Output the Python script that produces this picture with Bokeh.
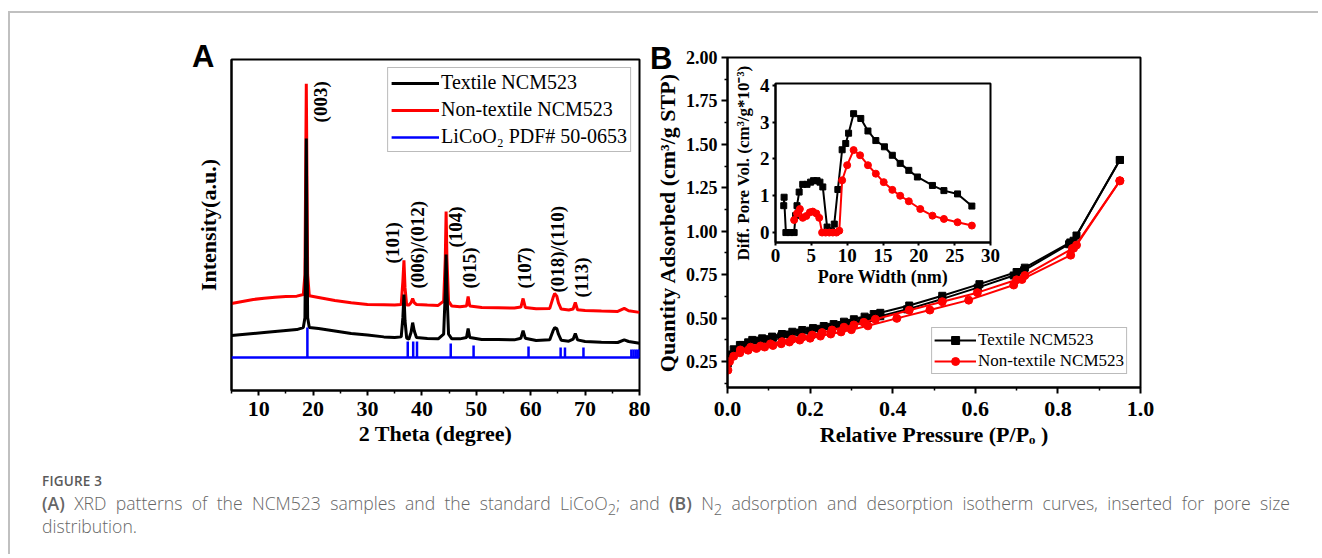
import numpy as np
from bokeh.plotting import figure
from bokeh.models import (Range1d, FixedTicker, NumeralTickFormatter, Legend, LegendItem,
                          Span, Div, GridBox)
from bokeh.core.properties import value
from bokeh.embed import file_html
from bokeh.resources import INLINE

# ---------------- Panel A : XRD ----------------
two_theta = [5, 7, 9, 11, 13, 15, 17, 18.2, 18.5, 18.65, 18.75, 18.85, 19.0, 19.3, 21, 24, 27, 30,
             33, 35, 36.2, 36.5, 36.7, 36.9, 37.2, 37.6, 38.0, 38.3, 38.6, 39.0, 41, 43, 44.0,
             44.3, 44.45, 44.6, 44.9, 45.5, 47, 48.2, 48.5, 48.8, 51, 54, 57, 58.2, 58.6, 59.0,
             61, 63.5, 64.1, 64.4, 64.8, 65.1, 65.6, 67, 67.8, 68.2, 68.6, 70, 73, 76, 77.2, 78, 80]
textile_xrd = [16.6, 16.9, 17.2, 17.5, 17.8, 18.1, 18.4, 19.0, 22, 50, 76.1, 50, 22, 19.0, 18.7, 18.0,
               17.2, 16.8, 16.2, 16.0, 16.2, 22, 29.0, 21, 15.8, 15.5, 17.5, 20.5, 18.0, 16.0, 15.7,
               15.6, 17, 30, 41.1, 30, 17, 15.6, 15.6, 16, 18.7, 16, 15.4, 15.4, 15.3, 15.8, 18.1,
               15.8, 15.1, 15.3, 18, 19.0, 18.7, 17, 15.2, 14.9, 15.5, 17.2, 15.3, 14.8, 14.6, 14.5,
               15.3, 14.8, 14.3]
nontextile_xrd = [26.3, 26.9, 27.5, 27.9, 28.2, 28.4, 28.5, 29, 35, 70, 92.7, 70, 35, 28.6, 28.1, 27.2,
                  26.5, 26.0, 25.9, 25.8, 26, 33, 39.3, 31, 25.8, 25.8, 26.5, 27.8, 26.5, 26, 25.8,
                  25.7, 27, 40, 54.1, 40, 27, 25.5, 25.3, 25.5, 28.4, 25.5, 25.1, 25.0, 24.9, 25.2,
                  27.8, 25.1, 24.7, 24.8, 28.0, 29.3, 28.5, 26.5, 24.6, 24.3, 24.6, 26.6, 24.4, 24.2,
                  24.0, 23.9, 24.8, 24.1, 23.6]
ref_pos = [18.95, 37.4, 38.4, 39.1, 45.3, 49.5, 59.6, 65.5, 66.3, 69.7, 78.5, 78.9, 79.3, 79.7, 80.0]
ref_int = [9.0, 4.8, 4.8, 4.8, 4.2, 3.6, 3.3, 3.0, 3.0, 3.0, 2.4, 2.4, 2.4, 2.4, 2.4]
peak_labels = ["(003)", "(101)", "(006)/(012)", "(104)", "(015)", "(107)", "(018)/(110)", "(113)"]
peak_label_x = [21.3, 34.6, 39.2, 46.2, 48.7, 58.8, 64.9, 69.3]
peak_label_y = [81.0, 38.4, 30.8, 43.2, 30.8, 30.8, 29.6, 28.1]
A_XTICKS = [10, 20, 30, 40, 50, 60, 70, 80]
A_XMINOR = [5, 15, 25, 35, 45, 55, 65, 75]

# ---------------- Panel B : N2 isotherms ----------------
tex_ads_p = [0.001, 0.005, 0.015, 0.03, 0.05, 0.07, 0.09, 0.11, 0.13, 0.15, 0.175, 0.20, 0.225, 0.25,
             0.275, 0.30, 0.325, 0.35, 0.37, 0.435, 0.52, 0.606, 0.693, 0.718, 0.827, 0.838, 0.95]
tex_ads_q = [0.24, 0.29, 0.32, 0.345, 0.36, 0.37, 0.378, 0.386, 0.395, 0.405, 0.416, 0.427, 0.438, 0.449,
             0.46, 0.472, 0.485, 0.50, 0.51, 0.55, 0.61, 0.675, 0.745, 0.775, 0.925, 0.945, 1.41]
tex_des_p = [0.95, 0.845, 0.83, 0.72, 0.70, 0.61, 0.52, 0.44, 0.37, 0.354, 0.332, 0.306, 0.282, 0.257,
             0.233, 0.207, 0.181, 0.157, 0.132, 0.108, 0.084, 0.06, 0.036]
tex_des_q = [1.41, 0.975, 0.935, 0.79, 0.765, 0.695, 0.628, 0.572, 0.530, 0.523, 0.508, 0.493, 0.479,
             0.465, 0.454, 0.442, 0.431, 0.421, 0.408, 0.393, 0.383, 0.374, 0.345]
non_ads_p = [0.001, 0.005, 0.015, 0.03, 0.05, 0.07, 0.09, 0.11, 0.13, 0.15, 0.175, 0.20, 0.225, 0.25,
             0.275, 0.30, 0.34, 0.41, 0.49, 0.584, 0.693, 0.713, 0.831, 0.838, 0.95]
non_ads_q = [0.20, 0.25, 0.28, 0.30, 0.315, 0.325, 0.333, 0.342, 0.352, 0.362, 0.373, 0.384, 0.396, 0.408,
             0.42, 0.433, 0.455, 0.498, 0.546, 0.603, 0.69, 0.722, 0.862, 0.902, 1.29]
non_des_p = [0.95, 0.845, 0.835, 0.72, 0.70, 0.605, 0.52, 0.44, 0.358, 0.33, 0.306, 0.282, 0.253, 0.229,
             0.205, 0.181, 0.157, 0.132, 0.104, 0.08, 0.056, 0.031]
non_des_q = [1.29, 0.92, 0.90, 0.745, 0.72, 0.646, 0.594, 0.545, 0.493, 0.475, 0.460, 0.447, 0.431, 0.416,
             0.402, 0.389, 0.378, 0.364, 0.351, 0.339, 0.332, 0.316]
B_XTICKS = [0.0, 0.2, 0.4, 0.6, 0.8, 1.0]
B_XMINOR = [0.1, 0.3, 0.5, 0.7, 0.9]
B_YTICKS = [0.25, 0.50, 0.75, 1.00, 1.25, 1.50, 1.75, 2.00]
B_YMINOR = [0.125, 0.375, 0.625, 0.875, 1.125, 1.375, 1.625, 1.875]

# ---------------- Inset : pore size distribution ----------------
tex_pw = [1.15, 1.2, 1.45, 2.0, 2.6, 2.8, 3.0, 3.3, 3.8, 4.4, 4.9, 5.3, 5.8, 6.2, 6.6, 7.2, 7.8, 8.2,
          8.7, 9.3, 9.8, 10.2, 10.9, 11.9, 12.9, 14.0, 15.2, 16.3, 17.4, 18.6, 19.8, 21.9, 23.5, 25.4, 27.4]
tex_dv = [0.73, 0.96, 0.0, 0.0, 0.0, 0.46, 0.73, 1.1, 1.31, 1.31, 1.37, 1.41, 1.41, 1.37, 1.24, 0.15,
          0.05, 0.23, 1.17, 2.25, 2.42, 2.7, 3.23, 3.1, 2.76, 2.5, 2.33, 2.1, 1.88, 1.69, 1.51, 1.28,
          1.14, 1.05, 0.72]
non_pw = [2.6, 3.0, 3.4, 3.8, 4.3, 4.8, 5.2, 5.7, 6.1, 6.5, 7.0, 7.5, 8.0, 8.5, 8.9, 9.3, 10.0, 10.9,
          11.8, 12.9, 14.0, 15.1, 16.3, 17.4, 18.6, 20.2, 21.9, 23.5, 25.4, 27.4]
non_dv = [0.34, 0.52, 0.64, 0.40, 0.45, 0.55, 0.57, 0.52, 0.40, 0.0, 0.0, 0.0, 0.0, 0.0, 0.05, 1.42,
          1.83, 2.24, 2.1, 1.83, 1.6, 1.37, 1.16, 1.0, 0.85, 0.64, 0.46, 0.37, 0.28, 0.19]
I_XTICKS = [0, 5, 10, 15, 20, 25, 30]
I_YTICKS = [0, 1, 2, 3, 4]

SERIF = "Liberation Serif"
REF_BASE = 10.0


def style(p, tick_px, label_px):
    for ax in p.axis:
        ax.axis_line_width = 2
        ax.axis_line_color = "black"
        ax.major_tick_line_width = 2
        ax.minor_tick_line_width = 1.5
        ax.major_tick_line_color = "black"
        ax.minor_tick_line_color = "black"
        ax.major_tick_in = 0
        ax.minor_tick_in = 0
        ax.major_label_text_font = SERIF
        ax.major_label_text_font_style = "bold"
        ax.major_label_text_font_size = f"{tick_px}px"
        ax.major_label_text_color = "black"
        ax.axis_label_text_font = SERIF
        ax.axis_label_text_font_style = "bold"
        ax.axis_label_text_font_size = f"{label_px}px"
        ax.axis_label_text_color = "black"
    p.xgrid.visible = False
    p.ygrid.visible = False
    p.outline_line_color = "black"
    p.outline_line_width = 2
    p.outline_line_alpha = 1
    p.border_fill_color = None
    p.background_fill_color = "white"


def style_legend(lg, size_px, glyph_w, glyph_h):
    lg.label_text_font = SERIF
    lg.label_text_font_size = f"{size_px}px"
    lg.label_text_color = "black"
    lg.glyph_width = glyph_w
    lg.glyph_height = glyph_h
    lg.label_height = glyph_h
    lg.label_standoff = 2
    lg.border_line_color = "#777777"
    lg.border_line_width = 1.5
    lg.background_fill_alpha = 1


# ---------------- figure A ----------------
pA = figure(width=519, height=440, x_range=Range1d(5, 80), y_range=Range1d(0, 100),
            output_backend="svg", toolbar_location=None, title=None, frame_align=False,
            min_border_left=91, min_border_right=20, min_border_top=29, min_border_bottom=80,
            margin=(30, 0, 0, 140),
            x_axis_label="2 Theta (degree)", y_axis_label="Intensity(a.u.)")
style(pA, 22, 22)
pA.xaxis.ticker = FixedTicker(ticks=A_XTICKS, minor_ticks=A_XMINOR)
pA.xaxis.major_tick_out = 5
pA.xaxis.minor_tick_out = 3
pA.xaxis.major_label_standoff = 6
pA.xaxis.axis_label_standoff = 2
pA.yaxis.ticker = FixedTicker(ticks=[], minor_ticks=[])
pA.yaxis.major_tick_out = 0
pA.yaxis.minor_tick_out = 0
pA.yaxis.major_label_standoff = 0
pA.yaxis.axis_label_standoff = 11

r_red = pA.line(two_theta, nontextile_xrd, line_color="red", line_width=3)
r_blk = pA.line(two_theta, textile_xrd, line_color="black", line_width=3)
pA.add_layout(Span(location=REF_BASE, dimension="width", line_color="blue", line_width=2.5))
r_ref = pA.segment(x0=ref_pos, y0=[REF_BASE] * len(ref_pos), x1=ref_pos,
                   y1=[REF_BASE + h for h in ref_int], line_color="blue", line_width=2.5)
pA.text(x=peak_label_x, y=peak_label_y, text=peak_labels, angle=np.pi / 2,
        text_align="left", text_baseline="middle", text_font=value(SERIF),
        text_font_style="bold", text_font_size="19px", text_color="black")

legA = Legend(items=[LegendItem(label="Textile NCM523", renderers=[r_blk]),
                     LegendItem(label="Non-textile NCM523", renderers=[r_red]),
                     LegendItem(label="LiCoO\u2082 PDF# 50-0653", renderers=[r_ref])],
              location="top_right")
style_legend(legA, 20, 48, 22)
legA.margin = 8
legA.padding = 3
legA.spacing = 4
pA.add_layout(legA)

# ---------------- figure B ----------------
pB = figure(width=526, height=437, x_range=Range1d(0, 1.0), y_range=Range1d(0.1, 2.0),
            output_backend="svg", toolbar_location=None, title=None, frame_align=False,
            min_border_left=97, min_border_right=16, min_border_top=27, min_border_bottom=80,
            margin=(30, 0, 0, 630),
            x_axis_label="Relative Pressure (P/P\u2092 )",
            y_axis_label="Quantity Adsorbed (cm\u00b3/g STP)")
style(pB, 22, 22)
pB.xaxis.ticker = FixedTicker(ticks=B_XTICKS, minor_ticks=B_XMINOR)
pB.yaxis.ticker = FixedTicker(ticks=B_YTICKS, minor_ticks=B_YMINOR)
pB.xaxis.formatter = NumeralTickFormatter(format="0.0")
pB.yaxis.formatter = NumeralTickFormatter(format="0.00")
pB.yaxis.major_label_text_font_size = "18px"
for ax in pB.axis:
    ax.major_tick_out = 6
    ax.minor_tick_out = 3
    ax.major_label_standoff = 4
    ax.axis_label_standoff = 3
pB.xaxis.major_label_standoff = 8

pB.line(tex_ads_p, tex_ads_q, line_color="black", line_width=2)
pB.scatter(tex_ads_p, tex_ads_q, marker="square", size=7, color="black")
tb_l = pB.line(tex_des_p, tex_des_q, line_color="black", line_width=2)
tb_s = pB.scatter(tex_des_p, tex_des_q, marker="square", size=7, color="black")
pB.line(non_ads_p, non_ads_q, line_color="red", line_width=2)
pB.scatter(non_ads_p, non_ads_q, marker="circle", size=8, color="red")
nb_l = pB.line(non_des_p, non_des_q, line_color="red", line_width=2)
nb_s = pB.scatter(non_des_p, non_des_q, marker="circle", size=8, color="red")

legB = Legend(items=[LegendItem(label="Textile NCM523", renderers=[tb_l, tb_s]),
                     LegendItem(label="Non-textile NCM523", renderers=[nb_l, nb_s])],
              location="bottom_right")
style_legend(legB, 17, 42, 20)
legB.margin = 13
legB.padding = 2
legB.spacing = 1
pB.add_layout(legB)

# ---------------- inset ----------------
pI = figure(width=281, height=252, x_range=Range1d(0, 30), y_range=Range1d(-0.27, 4.05),
            output_backend="svg", toolbar_location=None, title=None, frame_align=False,
            min_border_left=50, min_border_right=16, min_border_top=33, min_border_bottom=60,
            margin=(50, 0, 0, 725),
            x_axis_label="Pore Width (nm)",
            y_axis_label="Diff. Pore Vol. (cm\u00b3/g*10\u207b\u00b3)")
style(pI, 19, 17)
pI.xaxis.axis_label_text_font_size = "18px"
pI.xaxis.ticker = FixedTicker(ticks=I_XTICKS, minor_ticks=[])
pI.yaxis.ticker = FixedTicker(ticks=I_YTICKS, minor_ticks=[])
for ax in pI.axis:
    ax.major_tick_out = 3
    ax.major_label_standoff = 3
    ax.axis_label_standoff = 2
pI.yaxis.axis_label_standoff = 4

pI.line(tex_pw, tex_dv, line_color="black", line_width=2)
pI.scatter(tex_pw, tex_dv, marker="square", size=6, color="black")
pI.line(non_pw, non_dv, line_color="red", line_width=2)
pI.scatter(non_pw, non_dv, marker="circle", size=7, color="red")

# ---------------- page decorations ----------------
frame_div = Div(text="", width=1310, height=543, margin=(11, 0, 0, 8),
                styles={"border-top": "2px solid #c0c0c0", "border-left": "2px solid #c0c0c0"})
panel_style = {"font-family": "Liberation Sans", "font-weight": "bold", "font-size": "31px",
               "line-height": "31px", "color": "black"}
divA = Div(text="A", margin=(41, 0, 0, 192), styles=panel_style)
divB = Div(text="B", margin=(43, 0, 0, 650), styles=panel_style)
fig_div = Div(text="FIGURE 3", margin=(474, 0, 0, 42),
              styles={"font-family": "Open Sans", "font-size": "13.5px", "line-height": "14px",
                      "font-weight": "600", "color": "#5a5a5a", "letter-spacing": "0.2px"})
caption = ("<div style='display:block;width:1248px;text-align:justify;text-align-last:justify'>"
           "<span style='font-weight:600'>(A)</span> XRD patterns of the NCM523 samples and the "
           "standard LiCoO<sub style='line-height:0'>2</sub>; and "
           "<span style='font-weight:600'>(B)</span> N<sub style='line-height:0'>2</sub> "
           "adsorption and desorption isotherm curves, inserted for pore size</div>"
           "<div style='display:block'>distribution.</div>")
cap_div = Div(text=caption, width=1250, margin=(492, 0, 0, 42),
              styles={"font-family": "Open Sans", "font-size": "17.6px", "line-height": "23px",
                      "font-weight": "300", "color": "#666666"})

root = GridBox(children=[(frame_div, 0, 0), (pA, 0, 0), (pB, 0, 0), (pI, 0, 0),
                         (divA, 0, 0), (divB, 0, 0), (fig_div, 0, 0), (cap_div, 0, 0)])

open("out.html", "w").write(file_html(root, INLINE))
